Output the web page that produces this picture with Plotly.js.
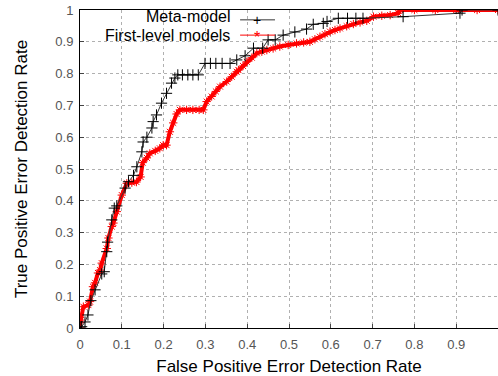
<!DOCTYPE html>
<html><head><meta charset="utf-8">
<script src="https://cdn.plot.ly/plotly-3.0.1.min.js"></script>
<style>html,body{margin:0;padding:0;background:#fff}#c{width:498px;height:376px}</style>
</head><body><div id="c"></div>
<script>
// Meta-model ROC points
const metaFPR = [0,0.004,0.012,0.019,0.026,0.036,0.052,0.058,0.064,0.066,0.076,0.082,0.088,0.108,0.116,0.128,0.136,0.148,0.151,0.160,0.172,0.175,0.183,0.195,0.207,0.219,0.227,0.234,0.245,0.258,0.270,0.283,0.299,0.312,0.325,0.340,0.359,0.375,0.395,0.415,0.437,0.450,0.467,0.486,0.514,0.542,0.558,0.582,0.591,0.618,0.640,0.660,0.677,0.773,0.909,0.914,1];
const metaTPR = [0,0.004,0.019,0.041,0.086,0.12,0.17,0.177,0.24,0.27,0.34,0.377,0.384,0.44,0.46,0.48,0.507,0.554,0.585,0.60,0.629,0.649,0.67,0.707,0.738,0.77,0.786,0.796,0.796,0.796,0.796,0.796,0.832,0.832,0.832,0.832,0.832,0.843,0.856,0.88,0.88,0.906,0.906,0.921,0.931,0.94,0.955,0.958,0.964,0.974,0.974,0.974,0.974,0.979,0.99,1,1];
// First-level models ROC points
const firstFPR = [0,0.002,0.008,0.020,0.024,0.031,0.036,0.043,0.048,0.052,0.064,0.068,0.076,0.080,0.088,0.100,0.112,0.124,0.135,0.145,0.150,0.160,0.167,0.180,0.191,0.199,0.207,0.215,0.223,0.231,0.239,0.255,0.270,0.285,0.295,0.303,0.315,0.325,0.335,0.351,0.363,0.375,0.379,0.390,0.399,0.411,0.423,0.435,0.447,0.462,0.478,0.498,0.518,0.535,0.550,0.562,0.574,0.586,0.598,0.610,0.622,0.638,0.654,0.670,0.686,0.702,0.722,0.742,0.761,0.766,0.800,0.850,0.900,0.950,1];
const firstTPR = [0,0.025,0.067,0.072,0.083,0.13,0.142,0.173,0.182,0.204,0.25,0.283,0.319,0.33,0.366,0.418,0.455,0.457,0.459,0.475,0.52,0.535,0.549,0.557,0.565,0.575,0.575,0.617,0.645,0.673,0.686,0.686,0.686,0.686,0.686,0.712,0.728,0.744,0.759,0.775,0.79,0.806,0.811,0.824,0.837,0.85,0.864,0.869,0.874,0.879,0.885,0.89,0.895,0.898,0.9,0.908,0.916,0.924,0.932,0.937,0.942,0.949,0.956,0.961,0.966,0.979,0.982,0.984,0.99,1,1,1,1,1,1];
const ticks = [0,0.1,0.2,0.3,0.4,0.5,0.6,0.7,0.8,0.9,1];
const xTickLabels = ['0','0.1','0.2','0.3','0.4','0.5','0.6','0.7','0.8','0.9',''];
const yTickLabels = ['0','0.1','0.2','0.3','0.4','0.5','0.6','0.7','0.8','0.9','1'];
const seriesNames = ['Meta-model','First-level models'];

const traces = [
  {x: firstFPR, y: firstTPR, type:'scatter', mode:'lines+markers', name: seriesNames[1],
   line:{color:'#ff0000', width:4}, marker:{symbol:'asterisk-open', size:7, color:'#ff0000', line:{color:'#ff0000', width:1}}, showlegend:false},
  {x: metaFPR, y: metaTPR, type:'scatter', mode:'lines+markers', name: seriesNames[0],
   line:{color:'#333333', width:1}, marker:{symbol:'cross-thin-open', size:8, color:'#000', line:{color:'#000', width:1}}, showlegend:false}
];

const gridStyle = {showgrid:true, gridcolor:'#b0b0b0', griddash:'dot', gridwidth:1};
const layout = {
  width:498, height:376,
  margin:{l:80, r:0, t:10, b:48},
  paper_bgcolor:'#fff', plot_bgcolor:'#fff',
  font:{family:'Liberation Sans, Arial, sans-serif', color:'#000'},
  xaxis:Object.assign({range:[0,1], tickvals:ticks, ticktext:xTickLabels, showline:true, linecolor:'#000', linewidth:1, mirror:true,
    ticks:'inside', ticklen:4, tickcolor:'#444', zeroline:false, tickfont:{size:13, color:'#555'}, ticklabelstandoff:4,
    title:{text:'False Positive Error Detection Rate', font:{size:17, color:'#000'}, standoff:9}}, gridStyle),
  yaxis:Object.assign({range:[0,1], tickvals:ticks, ticktext:yTickLabels, showline:true, linecolor:'#000', linewidth:1, mirror:false,
    ticks:'inside', ticklen:4, tickcolor:'#444', zeroline:false, tickfont:{size:13, color:'#555'}, ticklabelstandoff:3,
    title:{text:'True Positive Error Detection Rate', font:{size:17, color:'#000'}, standoff:23}}, gridStyle),
  shapes:[
    {type:'line', xref:'paper', yref:'paper', x0:0.383, x1:0.4665, y0:0.969, y1:0.969, line:{color:'#333', width:1}},
    {type:'line', xref:'paper', yref:'paper', x0:0.383, x1:0.4665, y0:0.921, y1:0.921, line:{color:'#ff0000', width:1}}
  ],
  annotations:[
    {xref:'paper', yref:'paper', x:0.364, y:0.978, xanchor:'right', yanchor:'middle', text:seriesNames[0], showarrow:false, font:{size:16, color:'#000'}},
    {xref:'paper', yref:'paper', x:0.364, y:0.921, xanchor:'right', yanchor:'middle', text:seriesNames[1], showarrow:false, font:{size:16, color:'#000'}},
    {xref:'paper', yref:'paper', x:0.4246, y:0.969, xanchor:'center', yanchor:'middle', text:'+', showarrow:false, font:{size:14, color:'#000'}},
    {xref:'paper', yref:'paper', x:0.4246, y:0.915, xanchor:'center', yanchor:'middle', text:'*', showarrow:false, font:{size:16, color:'#ff0000'}}
  ],
  showlegend:false
};
Plotly.newPlot('c', traces, layout, {displayModeBar:false, staticPlot:true});
</script></body></html>
